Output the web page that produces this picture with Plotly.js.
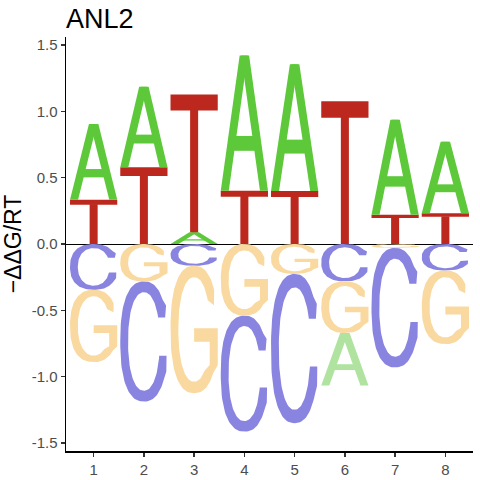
<!DOCTYPE html>
<html><head><meta charset="utf-8">
<script src="https://cdn.plot.ly/plotly-3.0.1.min.js"></script>
<style>html,body{margin:0;padding:0;background:#fff}#chart{width:480px;height:480px}</style>
</head><body><div id="chart"></div>
<script>
// ---- data (energy logo values per position) ----
const positions = [1, 2, 3, 4, 5, 6, 7, 8];
const letters = ['A', 'C', 'G', 'T'];
const valuesA = [0.570, 0.608, 0.088, 1.018, 0.954, -0.395, 0.716, 0.540];
const valuesC = [-0.345, -0.905, -0.164, -0.873, -1.124, -0.282, -0.900, -0.200];
const valuesG = [-0.545, -0.282, -0.960, -0.540, -0.226, -0.389, -0.030, -0.554];
const valuesT = [0.334, 0.578, 1.038, 0.402, 0.400, 1.075, 0.221, 0.231];
const yTickVals = [-1.5, -1.0, -0.5, 0.0, 0.5, 1.0, 1.5];
const yTickText = ['-1.5', '-1.0', '-0.5', '0.0', '0.5', '1.0', '1.5'];
const xTickText = ['1', '2', '3', '4', '5', '6', '7', '8'];

// ---- styles ----
const colPos = {A: '#5DC93A', C: '#1A12C2', G: '#F3B43E', T: '#BC281E'};
const colNeg = {A: '#B0E3A0', C: '#8984E0', G: '#F9D99F', T: '#DE938E'};
const letterWidth = 0.94;

// ---- glyph outlines in a unit box ----
function se(cx, cy, rx, ry, n, deg) {
  const t = deg * Math.PI / 180, c = Math.cos(t), s = Math.sin(t), e = 2 / n;
  return [cx + rx * Math.sign(c) * Math.pow(Math.abs(c), e),
          cy + ry * Math.sign(s) * Math.pow(Math.abs(s), e)];
}
function arc(cx, cy, rx, ry, n, a0, a1, steps) {
  const pts = [];
  for (let i = 0; i <= steps; i++) pts.push(se(cx, cy, rx, ry, n, a0 + (a1 - a0) * i / steps));
  return pts;
}
const glyphs = {
  T: [
    [[0, 0.885], [1, 0.885], [1, 1], [0, 1]],
    [[0.415, 0], [0.585, 0], [0.585, 0.9], [0.415, 0.9]]
  ],
  A: [
    [[0, 0], [0.17, 0], [0.57, 1], [0.4, 1]],
    [[0.83, 0], [1, 0], [0.6, 1], [0.43, 1]],
    [[0.2, 0.295], [0.8, 0.295], [0.8, 0.405], [0.2, 0.405]]
  ],
  C: [
    [].concat(
      arc(0.5, 0.5, 0.5, 0.5, 2.4, 40, 320, 90),
      [[0.975, 0.25], [0.98, 0.38]],
      arc(0.5, 0.5, 0.335, 0.41, 2.2, 345, 27, 90),
      [[0.95, 0.70], [0.97, 0.80]]
    )
  ],
  G: [
    [].concat(
      arc(0.5, 0.5, 0.5, 0.5, 2.4, 35, 320, 90),
      [[1.0, 0.22], [1.0, 0.51], [0.5, 0.51], [0.5, 0.403], [0.83, 0.403], [0.83, 0.22]],
      arc(0.5, 0.5, 0.335, 0.41, 2.2, 310, 32, 90),
      [[0.92, 0.69]]
    )
  ]
};

// ---- build traces ----
const valuesBy = {A: valuesA, C: valuesC, G: valuesG, T: valuesT};
const traces = [];
positions.forEach((p, i) => {
  const items = letters.map(L => ({L, v: valuesBy[L][i]}));
  const pos = items.filter(d => d.v > 0).sort((a, b) => a.v - b.v);
  const neg = items.filter(d => d.v < 0).sort((a, b) => b.v - a.v);
  let base = 0;
  pos.forEach(d => { d.y0 = base; d.h = d.v; base += d.v; d.color = colPos[d.L]; });
  base = 0;
  neg.forEach(d => { d.y0 = base + d.v; d.h = -d.v; base += d.v; d.color = colNeg[d.L]; });
  pos.concat(neg).forEach(d => {
    glyphs[d.L].forEach(poly => {
      traces.push({
        type: 'scatter', mode: 'lines',
        x: poly.map(q => p - letterWidth / 2 + q[0] * letterWidth),
        y: poly.map(q => d.y0 + q[1] * d.h),
        fill: 'toself', fillcolor: d.color,
        line: {width: 0, color: d.color},
        hoverinfo: 'skip', showlegend: false
      });
    });
  });
});

const font = 'Liberation Sans, Arial, Helvetica, sans-serif';
const layout = {
  width: 480, height: 480,
  margin: {l: 66, r: 7, t: 37, b: 29},
  paper_bgcolor: '#fff', plot_bgcolor: '#fff',
  showlegend: false,
  title: {text: 'ANL2', x: 0, xref: 'paper', xanchor: 'left', y: 0.962, yref: 'container', yanchor: 'middle',
          font: {family: font, size: 27, color: '#000'}},
  xaxis: {
    range: [0.45, 8.55], tickvals: positions, ticktext: xTickText,
    showgrid: false, zeroline: false, showline: true, linecolor: '#000', linewidth: 1.5,
    ticks: 'outside', ticklen: 4, tickwidth: 1.3, tickcolor: '#333',
    tickfont: {family: font, size: 15, color: '#4D4D4D'}
  },
  yaxis: {
    range: [-1.56, 1.56], tickvals: yTickVals, ticktext: yTickText,
    showgrid: false, zeroline: true, zerolinecolor: '#000', zerolinewidth: 1,
    showline: true, linecolor: '#000', linewidth: 1.5,
    ticks: 'outside', ticklen: 4, tickwidth: 1.3, tickcolor: '#333',
    tickfont: {family: font, size: 15, color: '#4D4D4D'},
    title: {text: '\u2212\u0394\u0394G/RT', font: {family: font, size: 23, color: '#000'}, standoff: 6}
  }
};
Plotly.newPlot('chart', traces, layout, {staticPlot: true, displayModeBar: false});
</script>
</body></html>
